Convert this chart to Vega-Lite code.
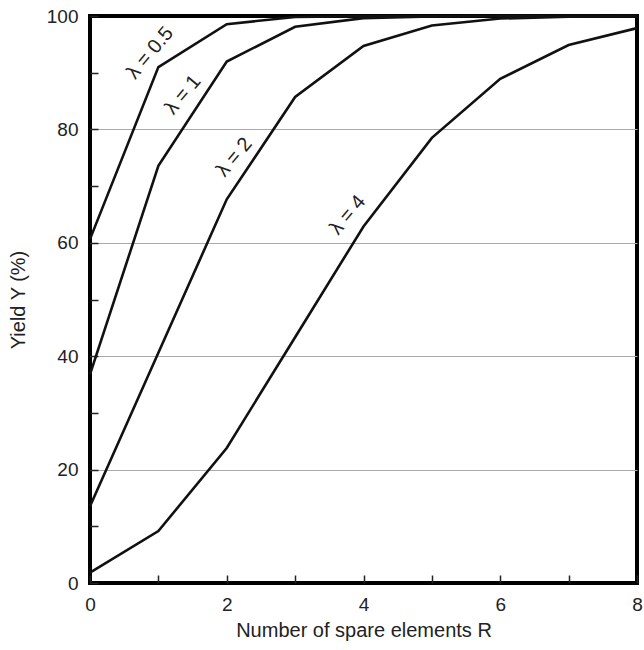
{
  "$schema": "https://vega.github.io/schema/vega-lite/v6.json",
  "autosize": {"type": "none"},
  "padding": {"left": 90, "top": 16, "right": 7, "bottom": 67},
  "width": 547,
  "height": 567,
  "background": "white",
  "config": {
    "view": {"stroke": "black", "strokeWidth": 4},
    "font": "Liberation Sans",
    "axis": {
      "domain": false,
      "labelFont": "Liberation Sans",
      "titleFont": "Liberation Sans",
      "labelFontSize": 19,
      "titleFontSize": 20,
      "titleFontWeight": "normal",
      "labelColor": "#222",
      "titleColor": "#222",
      "tickColor": "#222",
      "tickWidth": 1.5,
      "labelFlush": false
    }
  },
  "datasets": {
    "curves": [
      {"lambda": "0.5", "R": 0, "Y": 60.65}, {"lambda": "0.5", "R": 1, "Y": 90.98}, {"lambda": "0.5", "R": 2, "Y": 98.56},
      {"lambda": "0.5", "R": 3, "Y": 99.82}, {"lambda": "0.5", "R": 4, "Y": 99.98}, {"lambda": "0.5", "R": 5, "Y": 100},
      {"lambda": "0.5", "R": 6, "Y": 100}, {"lambda": "0.5", "R": 7, "Y": 100}, {"lambda": "0.5", "R": 8, "Y": 100},
      {"lambda": "1", "R": 0, "Y": 36.79}, {"lambda": "1", "R": 1, "Y": 73.58}, {"lambda": "1", "R": 2, "Y": 91.97},
      {"lambda": "1", "R": 3, "Y": 98.1}, {"lambda": "1", "R": 4, "Y": 99.63}, {"lambda": "1", "R": 5, "Y": 99.94},
      {"lambda": "1", "R": 6, "Y": 99.99}, {"lambda": "1", "R": 7, "Y": 100}, {"lambda": "1", "R": 8, "Y": 100},
      {"lambda": "2", "R": 0, "Y": 13.53}, {"lambda": "2", "R": 1, "Y": 40.6}, {"lambda": "2", "R": 2, "Y": 67.67},
      {"lambda": "2", "R": 3, "Y": 85.71}, {"lambda": "2", "R": 4, "Y": 94.73}, {"lambda": "2", "R": 5, "Y": 98.34},
      {"lambda": "2", "R": 6, "Y": 99.55}, {"lambda": "2", "R": 7, "Y": 99.89}, {"lambda": "2", "R": 8, "Y": 99.98},
      {"lambda": "4", "R": 0, "Y": 1.83}, {"lambda": "4", "R": 1, "Y": 9.16}, {"lambda": "4", "R": 2, "Y": 23.81},
      {"lambda": "4", "R": 3, "Y": 43.35}, {"lambda": "4", "R": 4, "Y": 62.88}, {"lambda": "4", "R": 5, "Y": 78.51},
      {"lambda": "4", "R": 6, "Y": 88.93}, {"lambda": "4", "R": 7, "Y": 94.89}, {"lambda": "4", "R": 8, "Y": 97.86}
    ],
    "labels": [
      {"label": "λ = 0.5", "R": 0.88, "Y": 93.5},
      {"label": "λ = 1", "R": 1.36, "Y": 86.1},
      {"label": "λ = 2", "R": 2.11, "Y": 75.1},
      {"label": "λ = 4", "R": 3.77, "Y": 64.9}
    ]
  },
  "layer": [
    {
      "data": {"name": "curves"},
      "mark": {"type": "line", "strokeWidth": 2.6, "color": "#111", "clip": false},
      "encoding": {
        "x": {
          "field": "R", "type": "quantitative",
          "scale": {"domain": [0, 8], "nice": false},
          "axis": {
            "title": "Number of spare elements R",
            "values": [0, 1, 2, 3, 4, 5, 6, 7, 8],
            "format": "d",
            "labelExpr": "datum.value % 2 == 0 ? datum.label : ''",
            "tickSize": -8,
            "labelPadding": 20,
            "titlePadding": 6,
            "grid": false
          }
        },
        "y": {
          "field": "Y", "type": "quantitative",
          "scale": {"domain": [0, 100], "nice": false},
          "axis": {
            "title": "Yield Y (%)",
            "values": [0, 10, 20, 30, 40, 50, 60, 70, 80, 90, 100],
            "format": "d",
            "labelExpr": "datum.value % 20 == 0 ? datum.label : ''",
            "tickSize": -8,
            "labelPadding": 20,
            "titlePadding": 18,
            "grid": true,
            "gridColor": "#aaa",
            "gridWidth": 1.2,
            "gridOpacity": {"condition": {"test": "datum.value % 20 == 0 && datum.value > 0 && datum.value < 100", "value": 1}, "value": 0}
          }
        },
        "detail": {"field": "lambda"}
      }
    },
    {
      "data": {"name": "labels"},
      "mark": {"type": "text", "angle": -50, "fontSize": 20, "color": "#222", "font": "Liberation Sans", "align": "center", "baseline": "middle"},
      "encoding": {
        "x": {"field": "R", "type": "quantitative"},
        "y": {"field": "Y", "type": "quantitative"},
        "text": {"field": "label"}
      }
    }
  ]
}
